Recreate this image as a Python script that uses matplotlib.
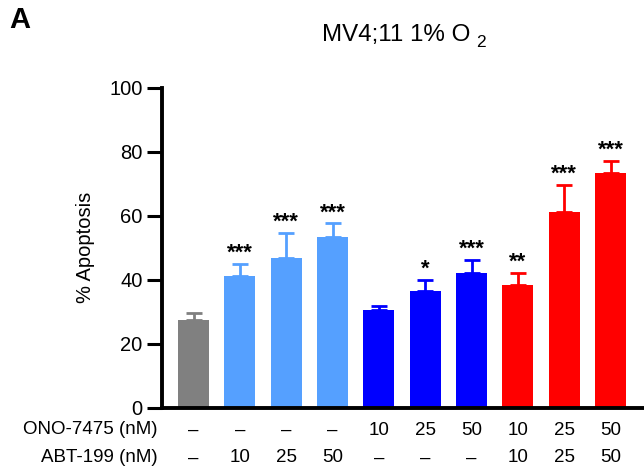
import matplotlib
matplotlib.use("Agg")
import matplotlib.pyplot as plt

plt.rcParams['font.family'] = ['Liberation Sans', 'DejaVu Sans']

# apoptosis (%) per condition
means = [27.4, 41.2, 46.8, 53.3, 30.5, 36.5, 42.1, 38.3, 61.2, 73.3]
errors = [2.3, 3.8, 7.8, 4.3, 1.3, 3.4, 4.0, 3.9, 8.4, 3.9]
stars = ['', '***', '***', '***', '', '*', '***', '**', '***', '***']
colors = ['#808080', '#55A0FF', '#55A0FF', '#55A0FF',
          '#0000FF', '#0000FF', '#0000FF',
          '#FF0000', '#FF0000', '#FF0000']
ono = ['–', '–', '–', '–', '10', '25', '50', '10', '25', '50']
abt = ['–', '10', '25', '50', '–', '–', '–', '10', '25', '50']

fig = plt.figure(figsize=(6.44, 4.74), dpi=100)
ax = fig.add_axes([0.2516, 0.140, 0.7484, 0.675])

x = list(range(len(means)))
ax.bar(x, means, width=0.67, color=colors, zorder=2)
for i in x:
    ax.errorbar(i, means[i], yerr=[[0], [errors[i]]], fmt='none',
                ecolor=colors[i], elinewidth=2, capsize=6, capthick=2, zorder=1)
    if stars[i]:
        ax.text(i, means[i] + errors[i] + 1.6, stars[i], ha='center', va='baseline',
                fontsize=16, fontweight='bold')

ax.set_xlim(-0.68, 9.72)
ax.set_ylim(0, 100)
ax.set_yticks([0, 20, 40, 60, 80, 100])
ax.set_xticks([])
ax.tick_params(axis='y', length=11, width=2.2, labelsize=14.5, pad=3)
for s in ['top', 'right']:
    ax.spines[s].set_visible(False)
for s in ['left', 'bottom']:
    ax.spines[s].set_linewidth(2.8)
ax.set_ylabel('% Apoptosis', fontsize=14.5, labelpad=10)

# title with a spaced subscript, as in the original
fig.text(322 / 644, 1 - 40.7 / 474, 'MV4;11 1% O', ha='left', va='baseline', fontsize=17.4)
fig.text(476 / 644, 1 - 47 / 474, '2', ha='left', va='baseline', fontsize=12.5)

trans = ax.get_xaxis_transform()
for i in x:
    ax.text(i, -0.07, ono[i], ha='center', va='center', fontsize=13.5, transform=trans)
    ax.text(i, -0.157, abt[i], ha='center', va='center', fontsize=13.5, transform=trans)
fig.text(0.245, 1 - 430 / 474, 'ONO-7475 (nM)', ha='right', va='center', fontsize=13.5)
fig.text(0.245, 1 - 458 / 474, 'ABT-199 (nM)', ha='right', va='center', fontsize=13.5)

fig.text(0.015, 1 - 20 / 474, 'A', ha='left', va='center', fontsize=21, fontweight='bold')

fig.savefig('out.png', dpi=100)
